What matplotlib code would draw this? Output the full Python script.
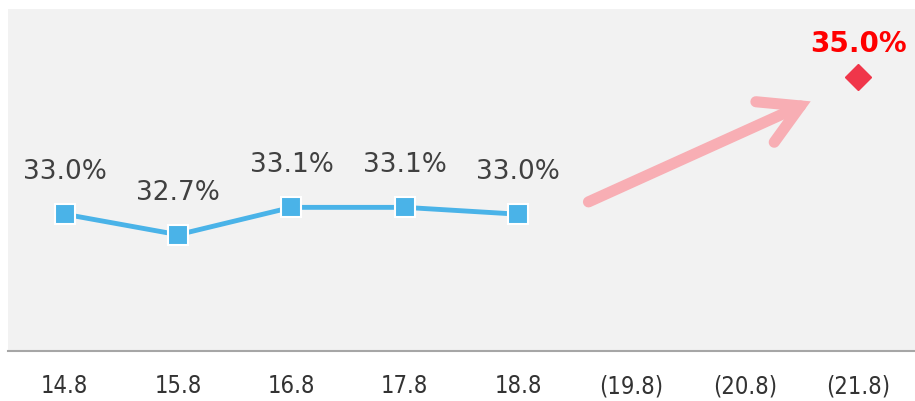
import matplotlib.pyplot as plt
import numpy as np

categories = ["14.8", "15.8", "16.8", "17.8", "18.8", "(19.8)", "(20.8)", "(21.8)"]
actual = [33.0, 32.7, 33.1, 33.1, 33.0]
target_idx = 7
target = 35.0

fig = plt.figure(figsize=(9.15, 4.02), dpi=100)
ax = fig.add_axes([8 / 915, 50 / 402, 907 / 915, 342 / 402])
ax.set_facecolor("#f2f2f2")

x = np.arange(len(actual))
ax.plot(x, actual, color="#4ab3e8", lw=3.5, marker="s", ms=14,
        mfc="#4ab3e8", mec="white", mew=1.5, zorder=3)
for xi, v in zip(x, actual):
    ax.annotate(f"{v:.1f}%", (xi, v), xytext=(0, 31), textcoords="offset points",
                ha="center", va="center", fontsize=19, color="#404040",
                family="DejaVu Sans")

ax.plot([target_idx], [target], marker="D", ms=13, color="#f0364a",
        mec="#f0364a", zorder=3)
ax.annotate(f"{target:.1f}%", (target_idx, target), xytext=(0, 25),
            textcoords="offset points", ha="center", va="center",
            fontsize=20, color="#ff0000", fontweight="bold", family="DejaVu Sans")

# trend arrow
ax.annotate("", xy=(6.58, 34.65), xytext=(4.62, 33.18),
            arrowprops=dict(arrowstyle="->,head_length=2.8,head_width=1.6",
                            color="#f8aeb4", lw=8, capstyle="round",
                            joinstyle="miter", shrinkA=0, shrinkB=0), zorder=2)

ax.set_xlim(-0.5, 7.5)
ax.set_ylim(31, 36)
ax.set_yticks([])
ax.set_xticks(range(len(categories)))
ax.set_xticklabels(categories, fontsize=17, color="#333333",
                   family="DejaVu Sans", fontstretch="condensed")
ax.tick_params(axis="x", length=0, pad=16)
for s in ["top", "right", "left"]:
    ax.spines[s].set_visible(False)
ax.spines["bottom"].set_color("#a6a6a6")
ax.spines["bottom"].set_linewidth(1.5)

fig.savefig("out.png", dpi=100, facecolor="white")
